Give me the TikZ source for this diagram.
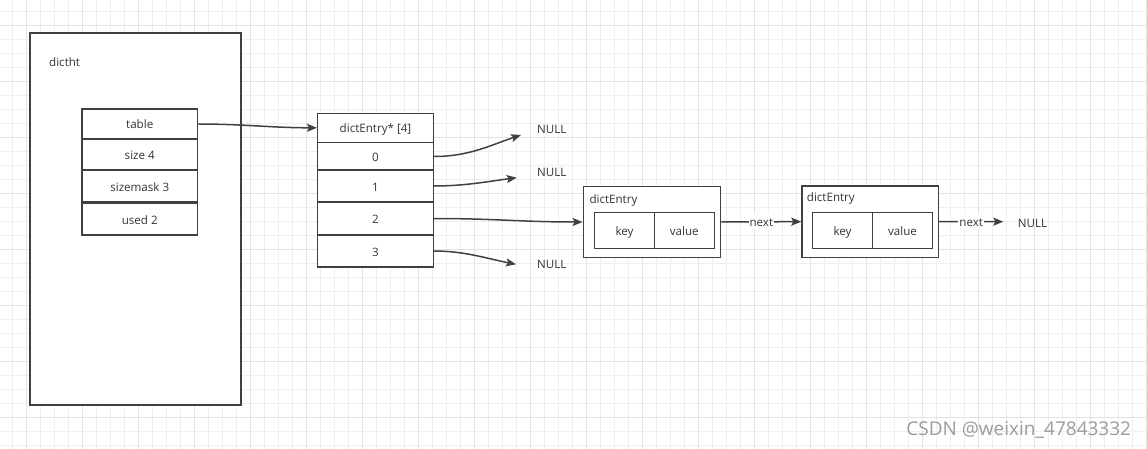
\documentclass[tikz,border=0pt]{standalone}
\usepackage{fontspec}
\setmainfont{Open Sans}
\usetikzlibrary{arrows.meta}
\definecolor{ln}{HTML}{404040}
\definecolor{tx}{HTML}{333333}
\definecolor{gmin}{HTML}{EFEFEF}
\definecolor{gmaj}{HTML}{E2E2E2}
\definecolor{wm}{HTML}{9C9C9C}
\tikzset{
  every node/.style={font=\fontsize{11.6}{14}\selectfont, text=tx},
  box/.style={draw=ln, line width=1.5pt, fill=white, rectangle, inner sep=0pt, text height=11.5pt, text depth=1.5pt},
  lbl/.style={inner sep=0pt, anchor=west},
  conn/.style={draw=ln, line width=1.5pt, -{Stealth[length=10pt,width=8pt,inset=2pt]}},
  edgelbl/.style={fill=white, inner sep=1pt, text height=11.5pt, text depth=1.5pt},
  minorgrid/.style={draw=gmin, line width=1pt},
  majorgrid/.style={draw=gmaj, line width=1pt},
}
\begin{document}
\begin{tikzpicture}[x=1pt,y=-1pt]
\useasboundingbox (0,0) rectangle (1147,449);
\fill[white] (0,0) rectangle (1147,449);
% grid
\foreach \i in {0,...,81} \draw[minorgrid] ({12.7+14*\i},0) -- ++(0,449);
\foreach \i in {0,...,31} \draw[minorgrid] (0,{11.3+14*\i}) -- ++(1147,0);
\foreach \i in {0,...,20} \draw[majorgrid] ({26.7+56*\i},0) -- ++(0,449);
\foreach \i in {0,...,7} \draw[majorgrid] (0,{25.3+56*\i}) -- ++(1147,0);

% dictht container
\node[box, minimum width=211pt, minimum height=372pt] (ht) at (135.5,219) {};
\node[lbl] (htl) at (49,62.5) {dictht};

% dictht fields
\node[box, minimum width=115.5pt, minimum height=30pt] (table) at (139.75,124) {table};
\node[box, minimum width=115.5pt, minimum height=31pt] (size) at (139.75,154.5) {size 4};
\node[box, minimum width=115.5pt, minimum height=32pt] (mask) at (139.75,186) {sizemask 3};
\node[box, minimum width=115.5pt, minimum height=32pt] (used) at (139.75,219) {used 2};

% table array
\node[box, minimum width=115.6pt, minimum height=29pt] (hdr) at (375.5,127.8) {dictEntry* [4]};
\node[box, minimum width=115.6pt, minimum height=28pt] (r0) at (375.5,156.5) {0};
\node[box, minimum width=115.6pt, minimum height=32pt] (r1) at (375.5,186) {1};
\node[box, minimum width=115.6pt, minimum height=33pt] (r2) at (375.5,218.5) {2};
\node[box, minimum width=115.6pt, minimum height=32pt] (r3) at (375.5,251) {3};

% NULLs
\node[lbl] (n0) at (537,129.5) {NULL};
\node[lbl] (n1) at (537,172.2) {NULL};
\node[lbl] (n3) at (537,264.8) {NULL};
\node[lbl] (n4) at (1017.7,223) {NULL};
\coordinate (t0) at (521,135);
\coordinate (t1) at (516.7,177.7);
\coordinate (t3) at (516,264.3);
\coordinate (t4) at (1003.3,221.7);

% dictEntry 1
\node[box, minimum width=137.4pt, minimum height=70.6pt] (e1) at (652,222) {};
\node[lbl] (e1l) at (589.3,200.5) {dictEntry};
\node[box, minimum width=59.6pt, minimum height=35.6pt] (e1k) at (624.5,230.5) {key};
\node[box, minimum width=60pt, minimum height=35.6pt] (e1v) at (684.3,230.5) {value};

% dictEntry 2
\node[box, minimum width=136.3pt, minimum height=71.3pt] (e2) at (870.15,221.65) {};
\node[lbl] (e2l) at (806.7,198.8) {dictEntry};
\node[box, minimum width=59.6pt, minimum height=36.4pt] (e2k) at (842.5,230.5) {key};
\node[box, minimum width=60.4pt, minimum height=36.4pt] (e2v) at (902.5,230.5) {value};

% connectors
\draw[conn] (table.east) .. controls +(45,0) and +(-45,0) .. (hdr.west);
\draw[conn] (r0.east) .. controls +(35,0) and +(-30,10) .. (t0);
\draw[conn] (r1.east) .. controls +(30,0) and +(-30,4) .. (t1);
\draw[conn] (r2.east) .. controls +(60,0) and +(-60,0) .. (e1.west);
\draw[conn] (r3.east) .. controls +(30,0) and +(-30,-6) .. (t3);
\draw[conn] (e1.east) -- node[edgelbl] {next} (e2.west);
\draw[conn] (e2.east) -- node[edgelbl] {next} (t4);

% watermark
\node[text=wm, font=\fontsize{19}{22}\selectfont, inner sep=0pt] (wmk) at (1018.7,430) {CSDN @weixin\_47843332};
\end{tikzpicture}
\end{document}
